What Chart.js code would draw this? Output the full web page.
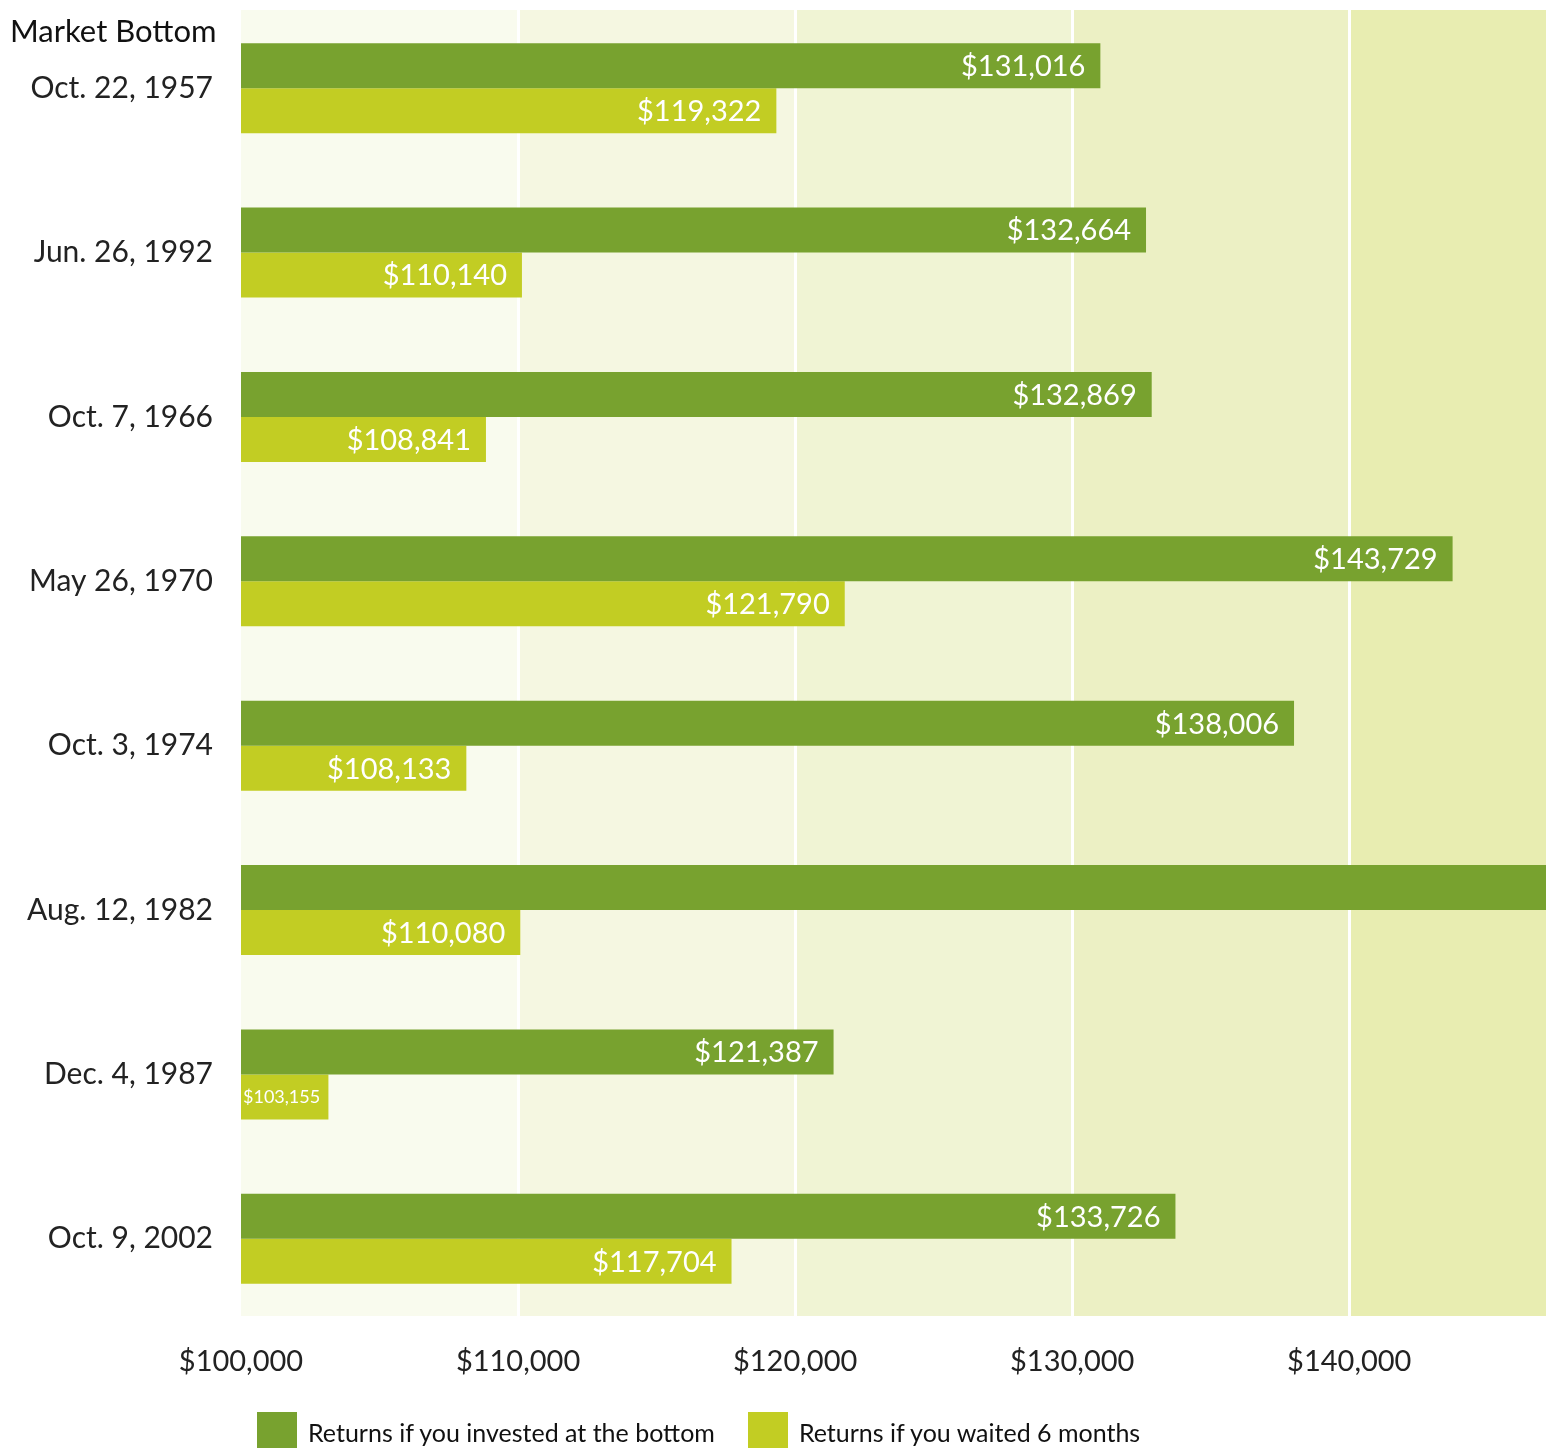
<!DOCTYPE html>
<html>
<head>
<meta charset="utf-8">
<script src="https://cdn.jsdelivr.net/npm/chart.js@4.4.1/dist/chart.umd.min.js"></script>
<style>
  body { margin: 0; background: #fff; font-family: Lato, "Noto Sans", sans-serif; }
  #wrap { position: relative; width: 1546px; height: 1448px; overflow: hidden; }
  #heading { position: absolute; left: 10px; top: 11px; font-size: 31px; color: #111; }
  #legend { position: absolute; left: 257px; top: 1412px; display: flex; font-size: 25px; color: #111; }
  .item { display: flex; align-items: center; margin-right: 33px; }
  .box { width: 40px; height: 40px; margin-right: 11px; }
</style>
</head>
<body>
<div id="wrap">
  <canvas id="chart" width="1546" height="1448"></canvas>
  <div id="heading">Market Bottom</div>
  <div id="legend"></div>
</div>
<script>
const categories = ['Oct. 22, 1957', 'Jun. 26, 1992', 'Oct. 7, 1966', 'May 26, 1970',
                    'Oct. 3, 1974', 'Aug. 12, 1982', 'Dec. 4, 1987', 'Oct. 9, 2002'];
const investedAtBottom = [131016, 132664, 132869, 143729, 138006, 158000, 121387, 133726];
const waitedSixMonths = [119322, 110140, 108841, 121790, 108133, 110080, 103155, 117704];
const seriesNames = ['Returns if you invested at the bottom', 'Returns if you waited 6 months'];
const tickValues = [100000, 110000, 120000, 130000, 140000];
const axisMin = 100000;
const axisMax = 147100;

const colors = ['#78a22f', '#c2cd23'];
const bandColors = ['#f9fbee', '#f5f7e1', '#f0f4d4', '#ecf0c4', '#e8edb1'];
const fontFamily = 'Lato, "Noto Sans", sans-serif';

const fmt = v => '$' + v.toLocaleString('en-US');

// shaded bands between gridlines, getting darker to the right
const bands = {
  id: 'bands',
  beforeDraw(chart) {
    const { ctx, chartArea, scales } = chart;
    const x = scales.x;
    const top = chartArea.top + 4, bottom = chartArea.bottom - 5;
    ctx.save();
    tickValues.forEach((v, i) => {
      const x0 = x.getPixelForValue(v);
      const x1 = i < tickValues.length - 1 ? x.getPixelForValue(tickValues[i + 1]) : chartArea.right;
      ctx.fillStyle = bandColors[i];
      ctx.fillRect(x0, top, x1 - x0, bottom - top);
    });
    ctx.restore();
  }
};

// value labels inside the bar ends
const valueLabels = {
  id: 'valueLabels',
  afterDraw(chart) {
    const { ctx, chartArea, scales } = chart;
    ctx.save();
    ctx.fillStyle = '#ffffff';
    ctx.textBaseline = 'middle';
    chart.data.datasets.forEach((ds, di) => {
      chart.getDatasetMeta(di).data.forEach((bar, i) => {
        const end = scales.x.getPixelForValue(ds.data[i]);
        if (end > chartArea.right) return;
        const text = fmt(ds.data[i]);
        const len = end - chartArea.left;
        ctx.font = '29px ' + fontFamily;
        if (ctx.measureText(text).width + 30 > len) {
          ctx.font = '18px ' + fontFamily;
          ctx.textAlign = 'left';
          ctx.fillText(text, chartArea.left + 2, bar.y);
        } else {
          ctx.textAlign = 'right';
          ctx.fillText(text, end - 15, bar.y + 1);
        }
      });
    });
    ctx.restore();
  }
};

const chart = new Chart(document.getElementById('chart').getContext('2d'), {
  type: 'bar',
  data: {
    labels: categories,
    datasets: [
      { label: seriesNames[0], data: investedAtBottom, backgroundColor: colors[0] },
      { label: seriesNames[1], data: waitedSixMonths, backgroundColor: colors[1] }
    ]
  },
  options: {
    indexAxis: 'y',
    responsive: false,
    animation: false,
    devicePixelRatio: 1,
    layout: { padding: { top: 6, right: 0, bottom: 0, left: 0 } },
    datasets: { bar: { barPercentage: 1, categoryPercentage: 0.5475 } },
    plugins: { legend: { display: false }, tooltip: { enabled: false } },
    scales: {
      x: {
        min: axisMin,
        max: axisMax,
        border: { display: false },
        grid: {
          drawTicks: false,
          lineWidth: 3,
          color: c => (c.tick && c.tick.value === axisMin) ? 'rgba(0,0,0,0)' : '#ffffff'
        },
        ticks: {
          padding: 23,
          color: '#222',
          font: { family: fontFamily, size: 29 },
          callback: v => fmt(v)
        },
        afterBuildTicks: s => { s.ticks = tickValues.map(v => ({ value: v })); },
        afterFit: s => { s.height = 127; s.paddingLeft = 0; s.paddingRight = 0; }
      },
      y: {
        border: { display: false },
        grid: { display: false, drawTicks: false },
        ticks: {
          padding: 28,
          color: '#222',
          font: { family: fontFamily, size: 30 }
        },
        afterFit: s => { s.width = 241; s.paddingTop = 0; s.paddingBottom = 0; }
      }
    }
  },
  plugins: [bands, valueLabels]
});

const legend = document.getElementById('legend');
chart.data.datasets.forEach(ds => {
  const item = document.createElement('div');
  item.className = 'item';
  item.innerHTML = '<div class="box" style="background:' + ds.backgroundColor + '"></div><span>' + ds.label + '</span>';
  legend.appendChild(item);
});
</script>
</body>
</html>
